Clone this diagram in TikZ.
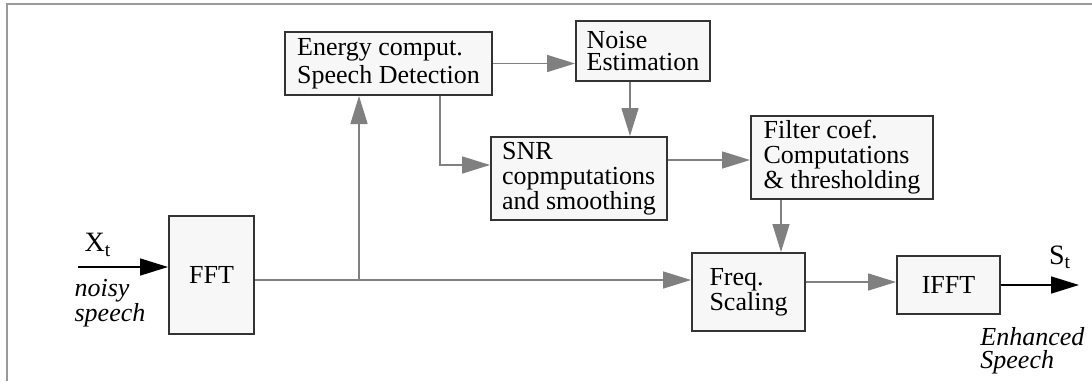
\documentclass[tikz,border=0pt]{standalone}
\usepackage{fontspec}
\setmainfont{Liberation Serif}
\usetikzlibrary{arrows.meta}
\definecolor{boxfill}{HTML}{F7F7F7}
\definecolor{boxline}{HTML}{333333}
\definecolor{wire}{HTML}{808080}
\definecolor{frame}{HTML}{999999}
\begin{document}
\begin{tikzpicture}[x=0.5pt,y=-0.5pt,
    blk/.style={draw=boxline,line width=1pt,fill=boxfill,inner sep=0pt,align=left,
        font=\fontsize{13}{12.5}\selectfont},
    conn/.style={draw=wire,line width=0.8pt,-{Triangle[length=14pt,width=8.5pt]}},
    io/.style={draw=black,line width=0.8pt,-{Triangle[length=14pt,width=8.5pt]}},
    lbl/.style={inner sep=0pt,align=left,font=\fontsize{13}{11.5}\selectfont\itshape}]
                \useasboundingbox (0,0) rectangle (1092,381);
                \draw[frame,line width=0.75pt] (7,381) -- (7,4) -- (1092,4);

                \node [blk,minimum width=42.5pt,minimum height=59pt] (FFT) at (211.5,275) {FFT};
                \node [blk,minimum width=103.5pt,minimum height=31.5pt,font=\fontsize{13}{14}\selectfont] (EN) at (388.5,63.5) {Energy comput.\\Speech Detection};
                \node [blk,minimum width=67pt,minimum height=30pt,font=\fontsize{13}{11}\selectfont] (NE) at (643,51) {Noise\\Estimation};
                \node [blk,minimum width=88pt,minimum height=41.5pt] (SNR) at (579,178.5) {SNR\\copmputations\\and smoothing};
                \node [blk,minimum width=91pt,minimum height=41.5pt] (FC) at (842,157.5) {Filter coef.\\Computations\\\& thresholding};
                \node [blk,minimum width=56.5pt,minimum height=39pt] (FS) at (748.5,292) {Freq.\\Scaling};
                \node [blk,minimum width=51.5pt,minimum height=29pt] (IF) at (948.5,285) {IFFT};

                \coordinate (IN) at (78,267);
                \coordinate (OUT) at (1079,285);
                \coordinate (M) at (0,280);
                \coordinate (BR) at (359,280);
                \coordinate (K) at (440,165);
                \coordinate (NX) at (630,0);
                \coordinate (SY) at (0,160);
                \coordinate (FX) at (781,0);
                \coordinate (QY) at (0,282);

                % input and output
                \draw[io] (IN) -- (IN -| FFT.west);
                \draw[io] (IF.east) -- (OUT);
                \node [inner sep=0pt,font=\fontsize{14}{14}\selectfont] (XT) at (98,245) {X$_\mathrm{t}$};
                \node [lbl] (NS) at (110,303) {noisy\\speech};
                \node [inner sep=0pt,font=\fontsize{14}{14}\selectfont] (ST) at (1060,257) {S$_\mathrm{t}$};
                \node [lbl,anchor=north west] (ES) at (980,327) {Enhanced\\Speech};

                % signal paths
                \draw[conn] (FFT.east |- M) -- (FS.west |- M);
                \draw[conn] (BR) -- (BR |- EN.south);
                \draw[conn] (EN.east) -- (EN.east -| NE.west);
                \draw[conn] (K |- EN.south) -- (K) -- (K -| SNR.west);
                \draw[conn] (NX |- NE.south) -- (NX |- SNR.north);
                \draw[conn] (SNR.east |- SY) -- (FC.west |- SY);
                \draw[conn] (FX |- FC.south) -- (FX |- FS.north);
                \draw[conn] (FS.east |- QY) -- (IF.west |- QY);
            \end{tikzpicture}
\end{document}
